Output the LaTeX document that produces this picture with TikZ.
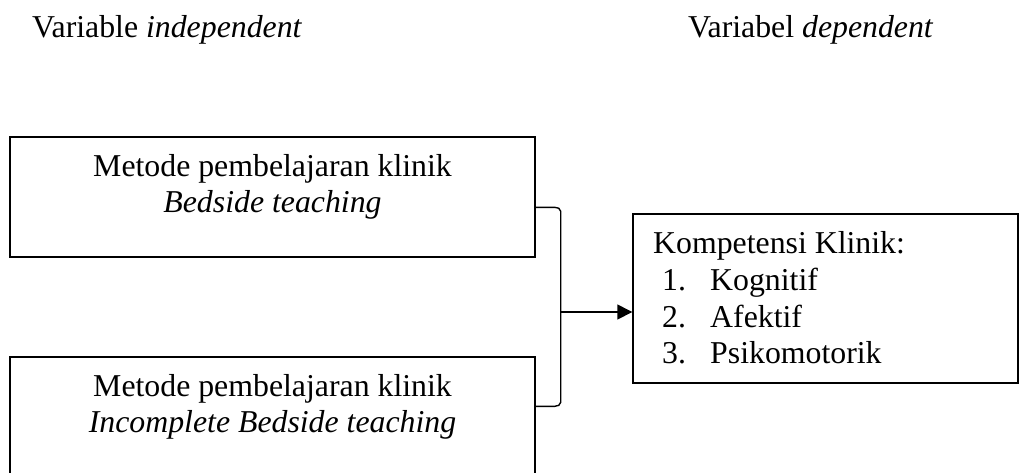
\documentclass[tikz,border=0pt]{standalone}
\usepackage{fontspec}
\setmainfont{Liberation Serif}
\usetikzlibrary{arrows.meta}
\begin{document}
\begin{tikzpicture}[x=1pt,y=-1pt,
  box/.style={draw,line width=1.4pt,rectangle,inner sep=0pt},
  txt/.style={anchor=base,inner sep=0pt,font=\fontsize{31.8}{36.5}\selectfont},
  txtw/.style={anchor=base west,inner sep=0pt,font=\fontsize{31.8}{36.5}\selectfont},
  conn/.style={line width=1.4pt},
  arr/.style={line width=1.4pt,-{Triangle[length=15pt,width=15pt]}}]
\useasboundingbox (0,0) rectangle (1019,472);
% headers
\node[txtw] (hind) at (32,37) {Variable \textit{independent}};
\node[txtw] (hdep) at (688,37) {Variabel \textit{dependent}};
% boxes
\node[box,minimum width=525pt,minimum height=120pt] (box1) at (272.5,197) {};
\node[box,minimum width=525pt,minimum height=130pt] (box2) at (272.5,422) {};
\node[box,minimum width=385pt,minimum height=169pt] (box3) at (825.5,298.5) {};
% box texts
\node[txt] (b1a) at (272.5,176) {Metode pembelajaran klinik};
\node[txt] (b1b) at (272.5,212) {\textit{Bedside teaching}};
\node[txt] (b2a) at (272.5,396) {Metode pembelajaran klinik};
\node[txt] (b2b) at (272.5,432) {\textit{Incomplete Bedside teaching}};
\node[txtw] (k0) at (653,253) {Kompetensi Klinik:};
\node[txtw] (k1n) at (662,290) {1.};
\node[txtw] (k1) at (710,290) {Kognitif};
\node[txtw] (k2n) at (662,327) {2.};
\node[txtw] (k2) at (710,327) {Afektif};
\node[txtw] (k3n) at (662,363) {3.};
\node[txtw] (k3) at (710,363) {Psikomotorik};
% bracket
\coordinate (mid) at (560,312);
\draw[conn] ([yshift=-71pt]box1.north east) -- ++(19,0) to[out=0,in=90] ++(6,4)
  -- ++(0,191) to[out=-90,in=0] ++(-6,4) -- ([yshift=-50pt]box2.north east);
\draw[arr] (mid) -- (box3.west |- mid);
\end{tikzpicture}
\end{document}
